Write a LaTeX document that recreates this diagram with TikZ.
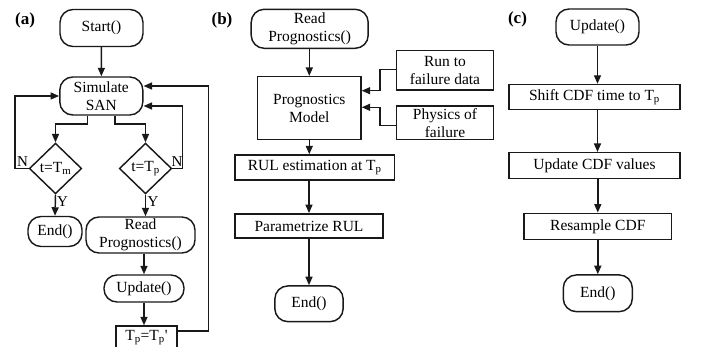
\documentclass[tikz,border=0pt]{standalone}
\usepackage{fontspec}
\setmainfont{Liberation Serif}
\usetikzlibrary{shapes.geometric,arrows.meta}

\begin{document}
\begin{tikzpicture}[x=1pt,y=-1pt,
  every node/.style={font=\fontsize{15.5}{18}\selectfont, inner sep=0pt, align=center},
  line/.style={line width=1.45pt, draw=black!90},
  arr/.style={line, -{Triangle[length=8.5pt,width=7pt]}},
  term/.style={line, rounded corners=13pt},
  proc/.style={line},
  deci/.style={line, diamond},
  tag/.style={font=\fontsize{17}{20}\selectfont\bfseries},
  lbl/.style={font=\fontsize{15}{18}\selectfont}
]
\useasboundingbox (0,0) rectangle (710,347);

% ---------------- (a) simulation loop ----------------
\node[tag] (ta) at (25,20) {(a)};
\node[term, minimum width=83pt, minimum height=37pt] (start) at (101.5,28) {Start()};
\node[term, minimum width=83pt, minimum height=38pt] (sim) at (101.3,96) {Simulate\\SAN};
\node[deci, minimum width=52.4pt, minimum height=50.7pt] (dm) at (55.5,168.5) {t=T\textsubscript{m}};
\node[deci, minimum width=52.4pt, minimum height=50.7pt] (dp) at (145.5,168.5) {t=T\textsubscript{p}};
\node[term, minimum width=54pt, minimum height=30pt] (enda) at (55,231.5) {End()};
\node[term, minimum width=109pt, minimum height=36pt] (reada) at (140.5,235) {Read\\Prognostics()};
\node[term, minimum width=80pt, minimum height=27pt] (upda) at (144,288.5) {Update()};
\node[proc, minimum width=61pt, minimum height=24pt] (tset) at (146.5,338) {T\textsubscript{p}=T\textsubscript{p}\textquotesingle};

\coordinate (bl) at (87.3,124);
\coordinate (br) at (115,124);
\coordinate (ln) at (15,168.5);
\coordinate (rn) at (182.7,168.5);
\coordinate (lo) at (208.3,331);

\draw[arr] (start) -- (sim);
\draw[arr] (sim.south -| bl) -- (bl) -| (dm.north);
\draw[arr] (sim.south -| br) -- (br) -| (dp.north);
\draw[arr] (dm.west) -- (ln) |- (sim.west);
\draw[arr] (dp.east) -- (rn) |- ([yshift=-10pt]sim.east);
\draw[arr] (tset.east |- lo) -- (lo) |- ([yshift=10pt]sim.east);
\draw[arr] (dm.south) -- (enda.north);
\draw[arr] (dp.south) -- (dp.south |- reada.north);
\draw[arr] (reada.south -| upda.north) -- (upda.north);
\draw[arr] (upda.south) -- (upda.south |- tset.north);

\node[lbl, anchor=base] (na) at (22.5,167) {N};
\node[lbl, anchor=base] (nb) at (177,167) {N};
\node[lbl, anchor=base west] (ya) at (57,207) {Y};
\node[lbl, anchor=base west] (yb) at (147.5,207) {Y};

% ---------------- (b) prognostics ----------------
\node[tag] (tb) at (222,20) {(b)};
\node[term, minimum width=117pt, minimum height=39pt] (readb) at (309.7,28.8) {Read\\Prognostics()};
\node[proc, minimum width=103.3pt, minimum height=62.7pt] (model) at (309.3,108) {Prognostics\\Model};
\node[proc, minimum width=96.7pt, minimum height=39.3pt] (rtf) at (445,70.3) {Run to\\failure data};
\node[proc, minimum width=96.7pt, minimum height=33.3pt] (pof) at (445,122.7) {Physics of\\failure};
\node[proc, minimum width=159.3pt, minimum height=25pt] (rul) at (314.7,167.5) {RUL estimation at T\textsubscript{p}};
\node[proc, minimum width=148.3pt, minimum height=24.3pt] (par) at (309,226) {Parametrize RUL};
\node[term, minimum width=68.3pt, minimum height=35.7pt] (endb) at (309,303.8) {End()};

\coordinate (k1) at (380,90.7);
\coordinate (k2) at (380,107.3);

\draw[arr] (readb.south -| model.north) -- (model.north);
\draw[arr] ([yshift=1pt]rtf.west) -| (k1) -- (model.east |- k1);
\draw[arr] ([yshift=-3pt]pof.west) -| (k2) -- (model.east |- k2);
\draw[arr] (model.south) -- (model.south |- rul.north);
\draw[arr] (rul.south -| par.north) -- (par.north);
\draw[arr] (par.south) -- (endb.north);

% ---------------- (c) CDF update ----------------
\node[tag] (tc) at (517.5,19) {(c)};
\node[term, minimum width=83pt, minimum height=36pt] (updc) at (597.5,27) {Update()};
\node[proc, minimum width=171pt, minimum height=25pt] (shift) at (594.5,97) {Shift CDF time to T\textsubscript{p}};
\node[proc, minimum width=171pt, minimum height=25.6pt] (cdfv) at (594.5,165.5) {Update CDF values};
\node[proc, minimum width=147.7pt, minimum height=26pt] (resa) at (597.8,226.3) {Resample CDF};
\node[term, minimum width=69pt, minimum height=36.7pt] (endc) at (597.8,293.3) {End()};

\draw[arr] (updc.south) -- (updc.south |- shift.north);
\draw[arr] (shift.south -| updc.south) -- (cdfv.north -| updc.south);
\draw[arr] (cdfv.south -| resa.north) -- (resa.north);
\draw[arr] (resa.south) -- (endc.north);
\end{tikzpicture}
\end{document}
